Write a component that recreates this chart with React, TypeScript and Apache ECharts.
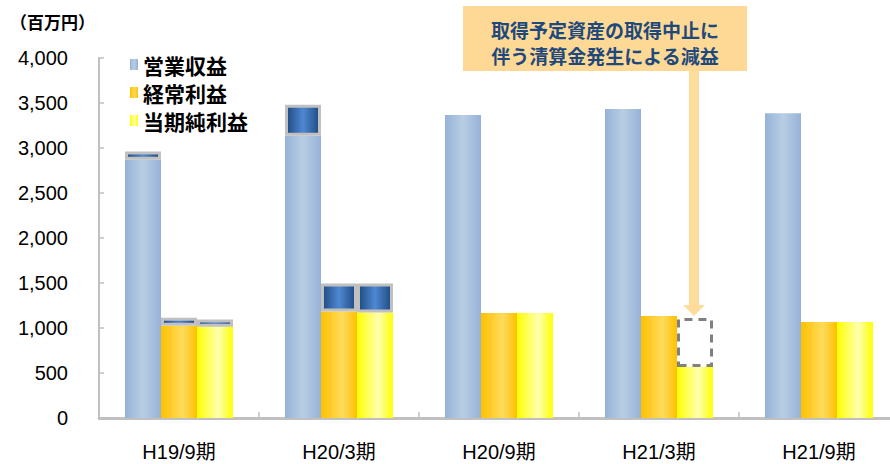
import React, { useEffect, useRef } from "react";
import * as echarts from "echarts";

const categories = ["H19/9期", "H20/3期", "H20/9期", "H21/3期", "H21/9期"];
const revenue = [2870, 3135, 3367, 3433, 3385];
const revenueExtra = [90, 345, null, null, null];
const ordinary = [1025, 1183, 1167, 1133, 1067];
const ordinaryExtra = [90, 311, null, null, null];
const netIncome = [1015, 1172, 1167, 567, 1067];
const netExtra = [80, 322, null, null, null];
const netLoss = [null, null, null, 544, null];
const yTicks = { min: 0, max: 4000, interval: 500 };
const calloutLines = ["取得予定資産の取得中止に", "伴う清算金発生による減益"];

const hGrad = (edge: string, mid: string, pos = 0.5) =>
  new echarts.graphic.LinearGradient(0, 0, 1, 0, [
    { offset: 0, color: edge },
    { offset: pos, color: mid },
    { offset: 1, color: edge },
  ]);

export default function App() {
  const ref = useRef<HTMLDivElement>(null);
  useEffect(() => {
    if (!ref.current) return;
    const chart = echarts.init(ref.current, null, { renderer: "svg" });
    const darkStyle = {
      color: hGrad("#1f4a80", "#4f88d2"),
      borderColor: "#c0c0c0",
      borderWidth: 3,
    };
    const cjk = "'Noto Sans CJK JP', sans-serif";
    chart.setOption({
      animation: false,
      backgroundColor: "#ffffff",
      grid: { left: 99, top: 58, width: 800, height: 360, outerBoundsMode: "none", containLabel: false },
      legend: {
        data: ["営業収益", "経常利益", "当期純利益"],
        orient: "vertical",
        left: 125,
        top: 49,
        itemWidth: 8,
        itemHeight: 11,
        itemGap: 7,
        icon: "rect",
        textStyle: {
          fontSize: 21,
          fontWeight: "bold",
          color: "#000",
          fontFamily: cjk,
          lineHeight: 21,
        },
      },
      xAxis: {
        type: "category",
        data: categories,
        axisLine: { lineStyle: { color: "#c0c0c0", width: 3 } },
        axisTick: { show: true, inside: true, length: 6, lineStyle: { color: "#c0c0c0", width: 1.5 } },
        axisLabel: {
          margin: 24,
          fontSize: 20,
          lineHeight: 20,
          color: "#000",
          fontFamily: "'Liberation Sans', 'Noto Sans CJK JP', sans-serif",
        },
      },
      yAxis: {
        type: "value",
        min: yTicks.min,
        max: yTicks.max,
        interval: yTicks.interval,
        splitLine: { show: false },
        axisLine: { show: true, lineStyle: { color: "#c0c0c0", width: 2 } },
        axisTick: { show: true, inside: true, length: 5, lineStyle: { color: "#c0c0c0", width: 1.5 } },
        axisLabel: {
          margin: 31,
          fontSize: 20,
          color: "#000",
          fontFamily: "'Liberation Sans', sans-serif",
          formatter: (v: number) => v.toLocaleString("en-US"),
        },
      },
      series: [
        {
          name: "営業収益",
          type: "bar",
          stack: "a",
          barWidth: 36,
          barGap: "0%",
          data: revenue,
          itemStyle: { color: hGrad("#95b3d7", "#b9cde5", 0.5) },
        },
        {
          name: "営業収益差",
          type: "bar",
          stack: "a",
          barWidth: 36,
          barGap: "0%",
          data: revenueExtra,
          itemStyle: darkStyle,
        },
        {
          name: "経常利益",
          type: "bar",
          stack: "b",
          barWidth: 36,
          barGap: "0%",
          data: ordinary,
          itemStyle: { color: hGrad("#ffc000", "#ffdb5c", 0.6) },
        },
        {
          name: "経常利益差",
          type: "bar",
          stack: "b",
          barWidth: 36,
          barGap: "0%",
          data: ordinaryExtra,
          itemStyle: darkStyle,
        },
        {
          name: "当期純利益",
          type: "bar",
          stack: "c",
          barWidth: 36,
          barGap: "0%",
          data: netIncome,
          itemStyle: { color: hGrad("#ffff00", "#ffffb0", 0.6) },
        },
        {
          name: "当期純利益差",
          type: "bar",
          stack: "c",
          barWidth: 36,
          barGap: "0%",
          data: netExtra.map((v, i) =>
            netLoss[i] != null
              ? {
                  value: netLoss[i],
                  itemStyle: {
                    color: "rgba(255,255,255,0)",
                    borderColor: "#808080",
                    borderWidth: 3,
                    borderType: [8, 6],
                  },
                }
              : v
          ),
          itemStyle: darkStyle,
        },
      ],
      graphic: [
        {
          type: "text",
          left: 10,
          top: 13,
          style: {
            text: "（百万円）",
            fontSize: 17,
            fontWeight: "bold",
            fill: "#000",
            fontFamily: cjk,
          },
        },
        {
          type: "rect",
          shape: { x: 463, y: 6, width: 284, height: 65 },
          style: { fill: "#fdd995" },
        },
        {
          type: "text",
          x: 605,
          y: 29,
          style: {
            text: calloutLines[0],
            align: "center",
            verticalAlign: "middle",
            fontSize: 19,
            fontWeight: "bold",
            fill: "#1f497d",
            fontFamily: cjk,
          },
        },
        {
          type: "text",
          x: 605,
          y: 55,
          style: {
            text: calloutLines[1],
            align: "center",
            verticalAlign: "middle",
            fontSize: 19,
            fontWeight: "bold",
            fill: "#1f497d",
            fontFamily: cjk,
          },
        },
        {
          type: "rect",
          shape: { x: 689, y: 71, width: 10, height: 235 },
          style: { fill: "#fedc9b" },
        },
        {
          type: "polygon",
          shape: { points: [[683, 305], [705, 305], [694, 316]] },
          style: { fill: "#fedc9b" },
        },
      ],
    });
    return () => chart.dispose();
  }, []);
  return (
    <div
      ref={ref}
      style={{ position: "absolute", left: 0, top: 0, width: 890, height: 464 }}
    />
  );
}
